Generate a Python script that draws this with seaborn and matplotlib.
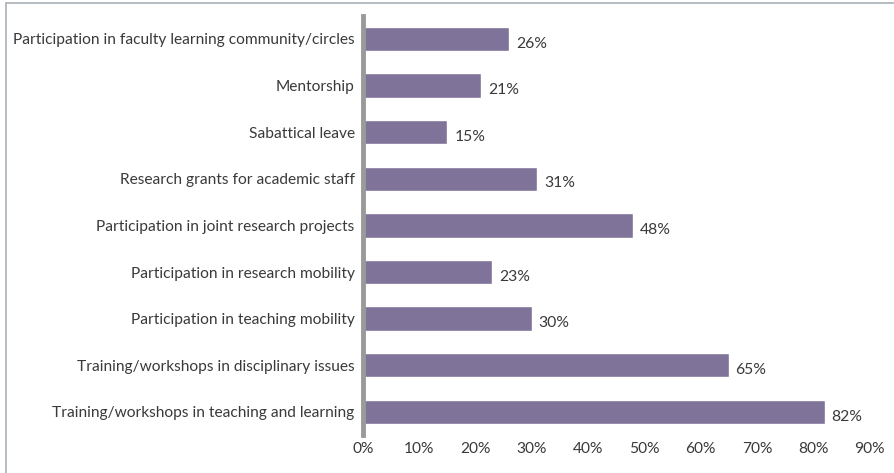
import matplotlib
matplotlib.use("Agg")
import matplotlib.pyplot as plt
import seaborn as sns
import pandas as pd
from matplotlib.patches import Rectangle

categories = [
    "Participation in faculty learning community/circles",
    "Mentorship",
    "Sabattical leave",
    "Research grants for academic staff",
    "Participation in joint research projects",
    "Participation in research mobility",
    "Participation in teaching mobility",
    "Training/workshops in disciplinary issues",
    "Training/workshops in teaching and learning",
]
values = [26, 21, 15, 31, 48, 23, 30, 65, 82]
tick_values = [0, 10, 20, 30, 40, 50, 60, 70, 80, 90]
tick_labels = [f"{t}%" for t in tick_values]

df = pd.DataFrame({"category": categories, "value": values})

sns.set_style("white")
plt.rcParams["font.family"] = ["Lato", "DejaVu Sans"]

fig = plt.figure(figsize=(8.95, 4.73), dpi=100)
ax = fig.add_axes([0.4056, 0.080, 0.566, 0.887])

sns.barplot(data=df, x="value", y="category", color="#7f7399", saturation=1,
            width=0.52, ax=ax)

for i, v in enumerate(values):
    ax.text(v + 1.2, i + 0.1, f"{v}%", va="center", ha="left",
            fontsize=11.3, color="#3a3a3a")

ax.set_xlim(0, 90)
ax.set_ylim(8.5, -0.5)
ax.set_xticks(tick_values)
ax.set_xticklabels(tick_labels)
ax.set_xlabel("")
ax.set_ylabel("")
ax.tick_params(axis="both", length=0, labelsize=11.2, labelcolor="#3a3a3a")
ax.tick_params(axis="y", pad=6)
ax.tick_params(axis="x", pad=5)
for s in ["top", "right", "bottom"]:
    ax.spines[s].set_visible(False)
ax.spines["left"].set_color("#9a9a9a")
ax.spines["left"].set_linewidth(3.5)

fig.patches.append(Rectangle((6 / 895, -0.05), 1.1, 1 - 3 / 473 + 0.05,
                             transform=fig.transFigure, fill=False,
                             edgecolor="#a9b1b8", linewidth=1.2))

fig.savefig("out.png", dpi=100)
